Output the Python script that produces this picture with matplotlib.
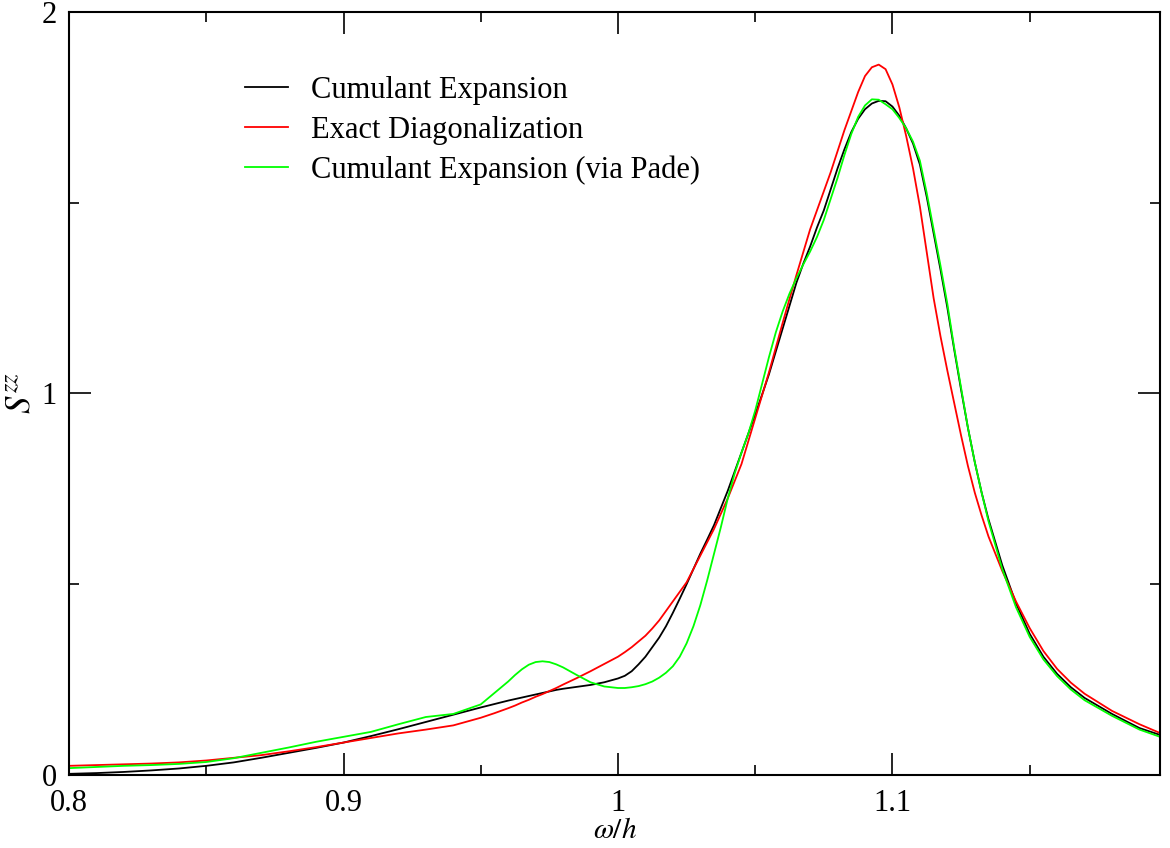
import matplotlib
matplotlib.use("Agg")
import matplotlib.pyplot as plt
from matplotlib.ticker import MultipleLocator

plt.rcParams['font.family'] = ['Liberation Serif', 'DejaVu Serif']
plt.rcParams['mathtext.fontset'] = 'stix'

# frequency grid (omega / h), finer where the curves bend fast
omega = [0.80, 0.81, 0.82, 0.83, 0.84, 0.85, 0.86, 0.87, 0.88, 0.89,
         0.90, 0.91, 0.92, 0.93, 0.94, 0.95, 0.955, 0.96, 0.9625, 0.965,
         0.9675, 0.97, 0.9725, 0.975, 0.9775, 0.98, 0.985, 0.99, 0.995, 1.00,
         1.0025, 1.005, 1.0075, 1.01, 1.0125, 1.015, 1.0175, 1.02, 1.0225, 1.025,
         1.0275, 1.03, 1.0325, 1.035, 1.0375, 1.04, 1.0425, 1.045, 1.0475, 1.05,
         1.0525, 1.055, 1.0575, 1.06, 1.0625, 1.065, 1.0675, 1.07, 1.0725, 1.075,
         1.0775, 1.08, 1.0825, 1.085, 1.0875, 1.09, 1.0925, 1.095, 1.0975, 1.10,
         1.1025, 1.105, 1.1075, 1.11, 1.1125, 1.115, 1.1175, 1.12, 1.1225, 1.125,
         1.1275, 1.13, 1.1325, 1.135, 1.14, 1.145, 1.15, 1.155, 1.16, 1.165,
         1.17, 1.18, 1.19, 1.1975]

s_cumulant = [0.003, 0.005, 0.008, 0.012, 0.017, 0.024, 0.033, 0.045, 0.058, 0.071,
              0.085, 0.102, 0.120, 0.139, 0.158, 0.177, 0.186, 0.195, 0.199, 0.203,
              0.207, 0.211, 0.215, 0.219, 0.223, 0.226, 0.231, 0.236, 0.243, 0.253,
              0.260, 0.272, 0.290, 0.310, 0.335, 0.360, 0.390, 0.425, 0.462, 0.500,
              0.540, 0.580, 0.617, 0.655, 0.700, 0.745, 0.795, 0.845, 0.895, 0.945,
              0.997, 1.050, 1.110, 1.170, 1.230, 1.290, 1.340, 1.385, 1.435, 1.480,
              1.535, 1.590, 1.640, 1.685, 1.720, 1.745, 1.760, 1.767, 1.766, 1.752,
              1.728, 1.695, 1.655, 1.600, 1.515, 1.420, 1.325, 1.225, 1.115, 1.010,
              0.910, 0.820, 0.740, 0.670, 0.550, 0.450, 0.370, 0.310, 0.265, 0.230,
              0.202, 0.160, 0.123, 0.105]

s_exact = [0.024, 0.026, 0.028, 0.030, 0.033, 0.038, 0.045, 0.052, 0.062, 0.073,
           0.085, 0.097, 0.109, 0.119, 0.130, 0.150, 0.162, 0.175, 0.182, 0.190,
           0.197, 0.205, 0.212, 0.220, 0.228, 0.237, 0.254, 0.272, 0.291, 0.310,
           0.322, 0.335, 0.350, 0.365, 0.384, 0.405, 0.430, 0.455, 0.480, 0.505,
           0.540, 0.575, 0.610, 0.645, 0.685, 0.725, 0.770, 0.815, 0.875, 0.935,
           0.995, 1.055, 1.120, 1.185, 1.248, 1.310, 1.370, 1.430, 1.480, 1.530,
           1.580, 1.635, 1.690, 1.740, 1.790, 1.832, 1.855, 1.862, 1.850, 1.810,
           1.750, 1.675, 1.590, 1.490, 1.370, 1.250, 1.150, 1.060, 0.975, 0.890,
           0.810, 0.740, 0.680, 0.625, 0.535, 0.455, 0.385, 0.325, 0.278, 0.242,
           0.213, 0.168, 0.133, 0.110]

s_pade = [0.018, 0.021, 0.024, 0.026, 0.029, 0.034, 0.044, 0.058, 0.072, 0.087,
          0.100, 0.113, 0.133, 0.152, 0.160, 0.185, 0.215, 0.245, 0.262, 0.277,
          0.289, 0.296, 0.298, 0.296, 0.290, 0.282, 0.262, 0.243, 0.232, 0.228,
          0.228, 0.230, 0.233, 0.238, 0.245, 0.255, 0.268, 0.285, 0.310, 0.345,
          0.390, 0.445, 0.510, 0.580, 0.650, 0.725, 0.790, 0.845, 0.895, 0.955,
          1.025, 1.095, 1.160, 1.215, 1.262, 1.302, 1.338, 1.372, 1.410, 1.455,
          1.510, 1.565, 1.625, 1.680, 1.725, 1.755, 1.771, 1.770, 1.758, 1.745,
          1.722, 1.695, 1.660, 1.610, 1.525, 1.430, 1.335, 1.235, 1.120, 1.015,
          0.910, 0.820, 0.740, 0.665, 0.540, 0.440, 0.362, 0.303, 0.259, 0.224,
          0.196, 0.155, 0.119, 0.100]

labels = ['Cumulant Expansion', 'Exact Diagonalization', 'Cumulant Expansion (via Pade)']
colors = ['black', '#ff0000', '#00ff00']

fig = plt.figure(figsize=(11.7, 8.48), dpi=100)
ax = fig.add_axes([0.0590, 0.0861, 0.9325, 0.8998])

for s, lab, c in zip([s_cumulant, s_exact, s_pade], labels, colors):
    ax.plot(omega, s, color=c, lw=1.3, label=lab)

ax.set_xlim(0.8, 1.1975)
ax.set_ylim(0, 2)
ax.xaxis.set_minor_locator(MultipleLocator(0.05))
ax.yaxis.set_minor_locator(MultipleLocator(0.5))
ax.set_xticks([0.8, 0.9, 1.0, 1.1])
ax.set_xticklabels(['0.8', '0.9', '1', '1.1'])
ax.set_yticks([0, 1, 2])
ax.set_yticklabels(['0', '1', '2'])

ax.tick_params(which='both', direction='in', top=True, right=True,
               labelsize=22, width=1.2)
ax.tick_params(which='major', length=15.5)
ax.tick_params(which='minor', length=7.5)
ax.tick_params(axis='x', which='major', pad=10)
ax.tick_params(axis='y', which='major', pad=9)
for sp in ax.spines.values():
    sp.set_linewidth(1.5)

ax.set_xlabel(r'$\omega/h$', fontsize=21, labelpad=0)
ax.set_ylabel(r'$S^{zz}$', fontsize=25, labelpad=3)

ax.legend(loc='upper left', bbox_to_anchor=(245 / 1170, 1 - 76 / 848),
          bbox_transform=fig.transFigure, frameon=False, fontsize=22,
          borderpad=0, borderaxespad=0, handlelength=1.4,
          handletextpad=0.75, labelspacing=0.35)

fig.savefig('out.png', dpi=100)
